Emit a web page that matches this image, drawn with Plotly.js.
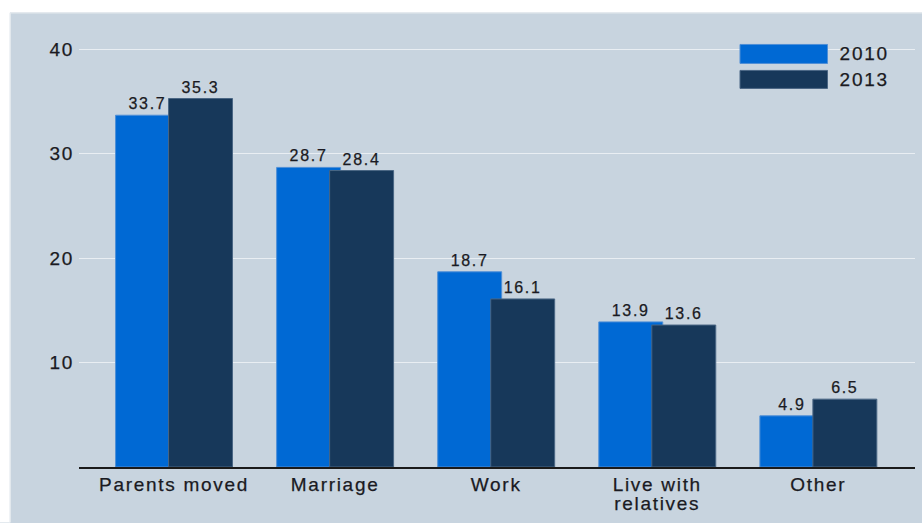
<!DOCTYPE html>
<html>
<head>
<meta charset="utf-8">
<script src="https://cdn.plot.ly/plotly-3.0.1.min.js"></script>
<style>
  html, body { margin: 0; padding: 0; background: #ffffff; }
  #chart { width: 922px; height: 523px; }
  .main-svg text { letter-spacing: 1.7px; stroke: #1a1a22; stroke-width: 0.25px; }
</style>
</head>
<body>
<div id="chart"></div>
<script>
// ---- data ----
const categories = ["Parents moved", "Marriage", "Work", "Live with<br>relatives", "Other"];
const seriesNames = ["2010", "2013"];
const values2010 = [33.7, 28.7, 18.7, 13.9, 4.9];
const values2013 = [35.3, 28.4, 16.1, 13.6, 6.5];
const yTickVals = [10, 20, 30, 40];
const yTickText = ["10", "20", "30", "40"];

// ---- styling ----
const W = 922, H = 523;
const M = { l: 79, r: 7, t: 13, b: 55.5 };
const PW = W - M.l - M.r, PH = H - M.t - M.b;
const px2x = p => (p - M.l) / PW;
const py2y = p => (H - M.b - p) / PH;

const colors = ["#0069d4", "#17385a"];
const edgeColors = ["#4f8fd6", "#4a6684"];
const panel = "#c8d4df";
const textColor = "#1a1a22";
const font = "Liberation Sans, Arial, sans-serif";
const barWidth = 0.397;
const offsets = [-0.363, -0.034];

const series = [values2010, values2013];
const traces = series.map((vals, i) => ({
  type: "bar",
  x: categories,
  y: vals,
  name: seriesNames[i],
  width: barWidth,
  offset: offsets[i],
  marker: { color: colors[i], line: { color: edgeColors[i], width: 1 } },
  text: vals.map(v => v.toFixed(1)),
  textposition: "outside",
  textfont: { family: font, size: 16, color: textColor },
  cliponaxis: false,
  showlegend: false,
  hoverinfo: "x+y"
}));

// custom legend (swatches + labels)
const legendRows = [{ y0: 44.5, y1: 63.5, ty: 54 }, { y0: 70.5, y1: 88.5, ty: 79.5 }];
const shapes = [
  { type: "rect", xref: "paper", yref: "paper", x0: px2x(0), x1: px2x(W), y0: py2y(12.5), y1: py2y(0),
    fillcolor: "#ffffff", line: { width: 0 }, layer: "below" },
  { type: "rect", xref: "paper", yref: "paper", x0: px2x(0), x1: px2x(10), y0: py2y(H), y1: py2y(0),
    fillcolor: "#ffffff", line: { width: 0 }, layer: "below" },
  { type: "line", xref: "paper", yref: "paper", x0: px2x(10), x1: px2x(W), y0: py2y(12.8), y1: py2y(12.8),
    line: { color: "#e4e9ee", width: 1.5 }, layer: "below" },
  { type: "line", xref: "paper", yref: "paper", x0: px2x(10.2), x1: px2x(10.2), y0: py2y(H), y1: py2y(12.8),
    line: { color: "#e4e9ee", width: 1.5 }, layer: "below" }
];
const annotations = [];
seriesNames.forEach((name, i) => {
  const r = legendRows[i];
  shapes.push({ type: "rect", xref: "paper", yref: "paper",
    x0: px2x(740), x1: px2x(827.5), y0: py2y(r.y1), y1: py2y(r.y0),
    fillcolor: colors[i], line: { color: edgeColors[i], width: 1 } });
  annotations.push({ xref: "paper", yref: "paper", x: px2x(841), y: py2y(r.ty),
    xanchor: "left", yanchor: "middle", showarrow: false, text: name,
    font: { family: font, size: 19, color: textColor } });
});

const layout = {
  width: W, height: H,
  margin: M,
  paper_bgcolor: panel,
  plot_bgcolor: panel,
  font: { family: font, size: 19, color: textColor },
  barmode: "overlay",
  xaxis: {
    type: "category",
    range: [-0.59, 4.6],
    showgrid: false,
    zeroline: false,
    showline: true,
    linecolor: "#1a1a1a",
    linewidth: 1.5,
    ticks: "",
    tickfont: { family: font, size: 19, color: textColor },
    fixedrange: true
  },
  yaxis: {
    range: [0, PH / 10.45],
    tickvals: yTickVals,
    ticktext: yTickText,
    showgrid: true,
    gridcolor: "#e9eef3",
    gridwidth: 1.2,
    zeroline: false,
    showline: false,
    ticks: "",
    ticklabelstandoff: 4,
    tickfont: { family: font, size: 19, color: textColor },
    fixedrange: true
  },
  shapes: shapes,
  annotations: annotations,
  showlegend: false
};

Plotly.newPlot("chart", traces, layout, { displayModeBar: false, staticPlot: true }).then(gd => {
  // tighten line spacing of the two-line category label
  gd.querySelectorAll(".xtick text tspan.line").forEach(t => {
    const dy = t.getAttribute("dy");
    if (dy && parseFloat(dy) > 0) t.setAttribute("dy", "1.0em");
  });
});
</script>
</body>
</html>
